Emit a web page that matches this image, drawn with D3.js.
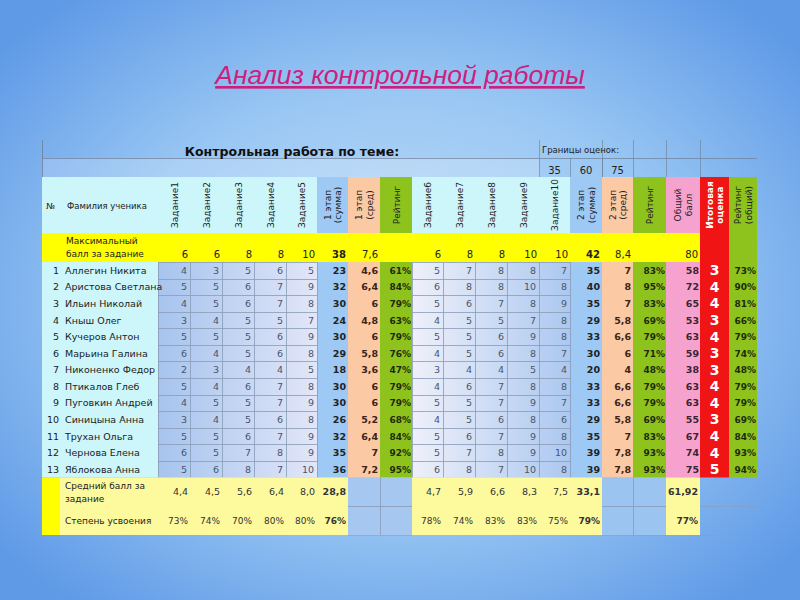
<!DOCTYPE html>
<html>
<head>
<meta charset="utf-8">
<script src="https://cdn.jsdelivr.net/npm/d3@7"></script>
<style>
  body { margin: 0; }
  svg { display: block; }
</style>
</head>
<body>
<div id="chart"></div>
<script>
// ---- data ----
var names = ["Аллегин Никита", "Аристова Светлана", "Ильин Николай", "Кныш Олег",
  "Кучеров Антон", "Марьина Галина", "Никоненко Федор", "Птикалов Глеб",
  "Пуговкин Андрей", "Синицына Анна", "Трухан Ольга", "Чернова Елена", "Яблокова Анна"];

var stage1Tasks = [
  [4, 3, 5, 6, 5], [5, 5, 6, 7, 9], [4, 5, 6, 7, 8], [3, 4, 5, 5, 7], [5, 5, 5, 6, 9],
  [6, 4, 5, 6, 8], [2, 3, 4, 4, 5], [5, 4, 6, 7, 8], [4, 5, 5, 7, 9], [3, 4, 5, 6, 8],
  [5, 5, 6, 7, 9], [6, 5, 7, 8, 9], [5, 6, 8, 7, 10]
];
var stage1Sum = [23, 32, 30, 24, 30, 29, 18, 30, 30, 26, 32, 35, 36];
var stage1Avg = ["4,6", "6,4", "6", "4,8", "6", "5,8", "3,6", "6", "6", "5,2", "6,4", "7", "7,2"];
var stage1Rating = ["61%", "84%", "79%", "63%", "79%", "76%", "47%", "79%", "79%", "68%", "84%", "92%", "95%"];

var stage2Tasks = [
  [5, 7, 8, 8, 7], [6, 8, 8, 10, 8], [5, 6, 7, 8, 9], [4, 5, 5, 7, 8], [5, 5, 6, 9, 8],
  [4, 5, 6, 8, 7], [3, 4, 4, 5, 4], [4, 6, 7, 8, 8], [5, 5, 7, 9, 7], [4, 5, 6, 8, 6],
  [5, 6, 7, 9, 8], [5, 7, 8, 9, 10], [6, 8, 7, 10, 8]
];
var stage2Sum = [35, 40, 35, 29, 33, 30, 20, 33, 33, 29, 35, 39, 39];
var stage2Avg = ["7", "8", "7", "5,8", "6,6", "6", "4", "6,6", "6,6", "5,8", "7", "7,8", "7,8"];
var stage2Rating = ["83%", "95%", "83%", "69%", "79%", "71%", "48%", "79%", "79%", "69%", "83%", "93%", "93%"];

var totalScore = [58, 72, 65, 53, 63, 59, 38, 63, 63, 55, 67, 74, 75];
var finalGrade = [3, 4, 4, 3, 4, 3, 3, 4, 4, 3, 4, 4, 5];
var totalRating = ["73%", "90%", "81%", "66%", "79%", "74%", "48%", "79%", "79%", "69%", "84%", "93%", "94%"];

var maxScores = ["6", "6", "8", "8", "10", "38", "7,6", "", "6", "8", "8", "10", "10", "42", "8,4", "", "80"];
var avgScores = ["4,4", "4,5", "5,6", "6,4", "8,0", "28,8", "", "", "4,7", "5,9", "6,6", "8,3", "7,5", "33,1", "", "", "61,92"];
var mastery = ["73%", "74%", "70%", "80%", "80%", "76%", "", "", "78%", "74%", "83%", "83%", "75%", "79%", "", "", "77%"];

var gradeBounds = ["35", "60", "75"];

// ---- layout ----
var svgWidth = 800, svgHeight = 600;
var columns = ["num", "name", "t1", "t2", "t3", "t4", "t5", "s1", "a1", "r1",
  "t6", "t7", "t8", "t9", "t10", "s2", "a2", "r2", "total", "grade", "rt"];
var colWidths = [18, 98, 32, 32, 32, 32, 31, 31, 32, 32, 31, 32, 32, 32, 31, 32, 31, 33, 34, 29, 28];
var tableLeft = 42;
var edges = [tableLeft].concat(Array.from(d3.cumsum(colWidths), d => d + tableLeft));
var colX = {}, colW = {};
columns.forEach(function(c, i) { colX[c] = edges[i]; colW[c] = colWidths[i]; });
var tableRight = edges[edges.length - 1];

var headTop = 177, headBottom = 233, maxBottom = 262, dataBottom = 477.5;
var y = d3.scaleBand().domain(d3.range(names.length)).range([maxBottom, dataBottom]);

var colors = {
  cyan: "#cdf6fb", blue: "#9dc9f4", peach: "#fbc9a4", green: "#8ec31e",
  pink: "#f6a2cf", red: "#f01414", yellow: "#ffff00", pale: "#fdfa9e", grid: "#8b9cb6"
};
var colFill = { s1: colors.blue, a1: colors.peach, r1: colors.green, s2: colors.blue,
  a2: colors.peach, r2: colors.green, total: colors.pink, grade: colors.red, rt: colors.green };

var font = "DejaVu Sans, sans-serif";

var svg = d3.select("#chart").append("svg")
  .attr("width", svgWidth)
  .attr("height", svgHeight);

var defs = svg.append("defs");
var bg = defs.append("radialGradient").attr("id", "bg")
  .attr("cx", "50%").attr("cy", "50%").attr("r", "65%");
bg.append("stop").attr("offset", "0%").attr("stop-color", "#c4e0f8");
bg.append("stop").attr("offset", "55%").attr("stop-color", "#98c6f3");
bg.append("stop").attr("offset", "100%").attr("stop-color", "#5f9ae7");

function hGrad(id, from, to) {
  var g = defs.append("linearGradient").attr("id", id).attr("x1", "0").attr("x2", "1").attr("y1", "0").attr("y2", "0");
  g.append("stop").attr("offset", "0%").attr("stop-color", from);
  g.append("stop").attr("offset", "100%").attr("stop-color", to);
}
hGrad("block1", "#a6c4ee", "#e2e6f8");
hGrad("block2", "#eef0fa", "#acc8f0");

svg.append("rect").attr("width", svgWidth).attr("height", svgHeight).attr("fill", "url(#bg)");

// title
svg.append("text")
  .attr("x", 400).attr("y", 84)
  .attr("text-anchor", "middle")
  .attr("font-family", "Liberation Sans, Arial, sans-serif")
  .attr("font-style", "italic")
  .attr("font-size", 26.5)
  .attr("fill", "#cc1f7e")
  .attr("text-decoration", "underline")
  .text("Анализ контрольной работы");

var table = svg.append("g");

function cell(x, yy, w, h, fill) {
  table.append("rect").attr("x", x).attr("y", yy).attr("width", w).attr("height", h).attr("fill", fill);
}
function line(x1, y1, x2, y2, col, op) {
  table.append("line").attr("x1", x1).attr("y1", y1).attr("x2", x2).attr("y2", y2)
    .attr("stroke", col || colors.grid).attr("stroke-width", 1).attr("opacity", op == null ? 1 : op);
}
function label(txt, x, yy, opts) {
  opts = opts || {};
  return table.append("text")
    .attr("x", x).attr("y", yy)
    .attr("text-anchor", opts.anchor || "end")
    .attr("font-family", font)
    .attr("font-size", opts.size || 9.5)
    .attr("font-weight", opts.bold ? "bold" : "normal")
    .attr("fill", opts.fill || "#222")
    .text(txt);
}

// top rows: title of the sheet and grade bounds
cell(tableLeft, 158, colX.t10 - tableLeft, headTop - 158, "rgba(255,255,255,0.18)");
line(tableLeft + 0.5, 140, tableLeft + 0.5, 535, "#6d7f99", 0.8);
line(tableLeft, 158.5, tableRight, 158.5, "#6d7f99", 0.7);
["t10", "a2", "r2", "total", "grade"].forEach(function(c) {
  line(colX[c] + 0.5, 140, colX[c] + 0.5, headTop, "#6d7f99", 0.6);
});
["s2", "a2"].forEach(function(c) { line(colX[c] + 0.5, 158, colX[c] + 0.5, headTop, "#6d7f99", 0.6); });
label("Контрольная работа по теме:", 292, 156, { anchor: "middle", size: 12.5, bold: true, fill: "#111" });
label("Границы оценок:", colX.t10 + 3, 153, { anchor: "start", size: 8.5, fill: "#222" });
["t10", "s2", "a2"].forEach(function(c, i) {
  label(gradeBounds[i], colX[c] + colW[c] / 2, 174, { anchor: "middle", size: 10, fill: "#222" });
});

// header row backgrounds
columns.forEach(function(c) {
  cell(colX[c], headTop, colW[c], headBottom - headTop, colFill[c] || colors.cyan);
});

// max row
cell(tableLeft, headBottom, colX.grade - tableLeft, maxBottom - headBottom, colors.yellow);
cell(colX.grade, headBottom, colW.grade, maxBottom - headBottom, colors.red);
cell(colX.rt, headBottom, colW.rt, maxBottom - headBottom, colors.green);

// data area backgrounds
cell(colX.num, maxBottom, colX.t1 - colX.num, dataBottom - maxBottom, colors.cyan);
cell(colX.t1, maxBottom, colX.s1 - colX.t1, dataBottom - maxBottom, "url(#block1)");
cell(colX.t6, maxBottom, colX.s2 - colX.t6, dataBottom - maxBottom, "url(#block2)");
["s1", "a1", "r1", "s2", "a2", "r2", "total", "grade", "rt"].forEach(function(c) {
  cell(colX[c], maxBottom, colW[c], dataBottom - maxBottom, colFill[c]);
});

// grid inside task blocks
[["t1", "s1"], ["t6", "s2"]].forEach(function(b) {
  var x0 = colX[b[0]], x1 = colX[b[1]];
  d3.range(names.length + 1).forEach(function(i) {
    var yy = i < names.length ? y(i) : dataBottom;
    line(x0, Math.round(yy) + 0.5, x1, Math.round(yy) + 0.5, colors.grid, 0.8);
  });
  columns.slice(columns.indexOf(b[0]), columns.indexOf(b[1]) + 1).forEach(function(c) {
    line(colX[c] + 0.5, maxBottom, colX[c] + 0.5, dataBottom, colors.grid, 0.8);
  });
});

// summary rows
var sumTop = dataBottom, sumMid = 506, sumBottom = 535;
cell(tableLeft, sumTop, colX.name - tableLeft, sumBottom - sumTop, colors.yellow);
cell(colX.name, sumTop, colX.a1 - colX.name, sumBottom - sumTop, colors.pale);
cell(colX.a1, sumTop, colX.t6 - colX.a1, sumBottom - sumTop, "#a6c8f0");
cell(colX.t6, sumTop, colX.a2 - colX.t6, sumBottom - sumTop, colors.pale);
cell(colX.a2, sumTop, colX.total - colX.a2, sumBottom - sumTop, "#9cc4f0");
cell(colX.total, sumTop, colW.total, sumBottom - sumTop, colors.pale);
line(colX.r1 + 0.5, sumTop, colX.r1 + 0.5, sumBottom, colors.grid, 0.8);
line(colX.r2 + 0.5, sumTop, colX.r2 + 0.5, sumBottom, colors.grid, 0.8);
line(colX.a1, sumMid + 0.5, colX.t6, sumMid + 0.5, colors.grid, 0.8);
line(colX.a2, sumMid + 0.5, colX.total, sumMid + 0.5, colors.grid, 0.8);
line(colX.grade, sumMid + 0.5, tableRight, sumMid + 0.5, colors.grid, 0.6);
line(colX.grade, sumBottom + 0.5, tableRight, sumBottom + 0.5, colors.grid, 0.4);
line(colX.a1, sumBottom + 0.5, colX.t6, sumBottom + 0.5, colors.grid, 0.5);
line(colX.a2, sumBottom + 0.5, colX.total, sumBottom + 0.5, colors.grid, 0.5);

// header texts
label("№", tableLeft + 4, 209, { anchor: "start", size: 8.5 });
label("Фамилия ученика", colX.name + 7, 209, { anchor: "start", size: 8.5 });
var headLabels = {
  t1: ["Задание1"], t2: ["Задание2"], t3: ["Задание3"], t4: ["Задание4"], t5: ["Задание5"],
  s1: ["1 этап", "(сумма)"], a1: ["1 этап", "(сред)"], r1: ["Рейтинг"],
  t6: ["Задание6"], t7: ["Задание7"], t8: ["Задание8"], t9: ["Задание9"], t10: ["Задание10"],
  s2: ["2 этап", "(сумма)"], a2: ["2 этап", "(сред)"], r2: ["Рейтинг"],
  total: ["Общий", "балл"], grade: ["Итоговая", "оценка"], rt: ["Рейтинг", "(общий)"]
};
Object.keys(headLabels).forEach(function(c) {
  var lines = headLabels[c];
  var cx = colX[c] + colW[c] / 2;
  lines.forEach(function(t, i) {
    var off = (i - (lines.length - 1) / 2) * 10.5 + 3.5;
    table.append("text")
      .attr("transform", "translate(" + (cx + off) + "," + 205 + ") rotate(-90)")
      .attr("text-anchor", "middle")
      .attr("font-family", font)
      .attr("font-size", 9)
      .attr("font-weight", c === "grade" ? "bold" : "normal")
      .attr("fill", c === "grade" ? "#fff" : "#222")
      .text(t);
  });
});

// max row texts
label("Максимальный", colX.name + 6, 244, { anchor: "start", size: 9 });
label("балл за задание", colX.name + 6, 257, { anchor: "start", size: 9 });
var rowCols = columns.slice(2, 19);
rowCols.forEach(function(c, i) {
  var bold = c === "s1" || c === "s2";
  label(maxScores[i], colX[c] + colW[c] - 2, 258, { size: 10, bold: bold });
});

// data rows
names.forEach(function(n, i) {
  var base = y(i) + y.bandwidth() / 2 + 3.5;
  label(String(i + 1), colX.name - 1, base, { size: 9.5 });
  label(n, colX.name + 5, base, { anchor: "start", size: 9.5 });
  stage1Tasks[i].forEach(function(v, j) {
    var c = "t" + (j + 1);
    label(v, colX[c] + colW[c] - 3, base, { size: 9.5, fill: "#4a5568" });
  });
  stage2Tasks[i].forEach(function(v, j) {
    var c = "t" + (j + 6);
    label(v, colX[c] + colW[c] - 3, base, { size: 9.5, fill: "#4a5568" });
  });
  label(stage1Sum[i], colX.s1 + colW.s1 - 2, base, { size: 9.5, bold: true });
  label(stage1Avg[i], colX.a1 + colW.a1 - 2, base, { size: 9.5, bold: true, fill: "#3a2418" });
  label(stage1Rating[i], colX.r1 + colW.r1 - 1, base, { size: 9, bold: true, fill: "#1e2a0a" });
  label(stage2Sum[i], colX.s2 + colW.s2 - 2, base, { size: 9.5, bold: true });
  label(stage2Avg[i], colX.a2 + colW.a2 - 2, base, { size: 9.5, bold: true, fill: "#3a2418" });
  label(stage2Rating[i], colX.r2 + colW.r2 - 1, base, { size: 9, bold: true, fill: "#1e2a0a" });
  label(totalScore[i], colX.total + colW.total - 1, base, { size: 9.5, bold: true, fill: "#3a2430" });
  label(finalGrade[i], colX.grade + colW.grade / 2, base + 1.5, { anchor: "middle", size: 14, bold: true, fill: "#fff" });
  label(totalRating[i], colX.rt + colW.rt - 1, base, { size: 9, bold: true, fill: "#1e2a0a" });
});

// summary texts
label("Средний балл за", colX.name + 5, 489, { anchor: "start", size: 9 });
label("задание", colX.name + 5, 502, { anchor: "start", size: 9 });
label("Степень усвоения", colX.name + 5, 524, { anchor: "start", size: 9 });
rowCols.forEach(function(c, i) {
  var bold = c === "s1" || c === "s2" || c === "total";
  label(avgScores[i], colX[c] + colW[c] - 2, 495, { size: 9.5, bold: bold, fill: "#333" });
  label(mastery[i], colX[c] + colW[c] - 2, 524, { size: 9, bold: bold, fill: "#333" });
});
</script>
</body>
</html>
